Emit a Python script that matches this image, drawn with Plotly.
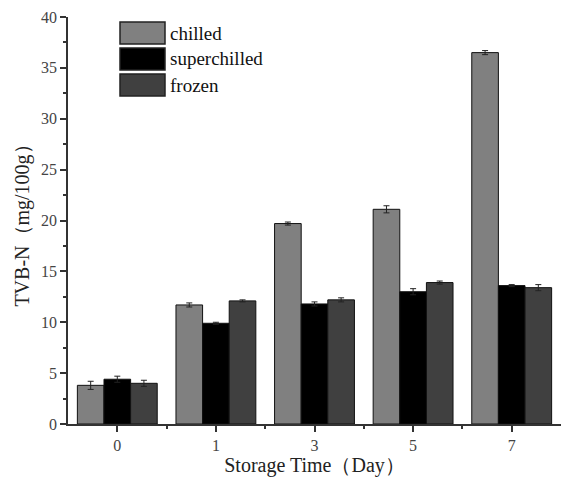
import plotly.graph_objects as go

days = ["0", "1", "3", "5", "7"]
series_names = ["chilled", "superchilled", "frozen"]
chilled = [3.8, 11.7, 19.7, 21.1, 36.5]
superchilled = [4.4, 9.9, 11.8, 13.0, 13.6]
frozen = [4.0, 12.1, 12.2, 13.9, 13.4]
chilled_err = [0.4, 0.2, 0.15, 0.35, 0.2]
superchilled_err = [0.3, 0.1, 0.2, 0.3, 0.1]
frozen_err = [0.3, 0.1, 0.2, 0.15, 0.3]
colors = ["#808080", "#000000", "#404040"]

values = [chilled, superchilled, frozen]
errors = [chilled_err, superchilled_err, frozen_err]
xpos = list(range(len(days)))

FONT = "Liberation Serif, Times New Roman, serif"

fig = go.Figure()
for name, vals, errs, col in zip(series_names, values, errors, colors):
    fig.add_trace(go.Bar(
        x=xpos, y=vals, name=name,
        marker=dict(color=col, line=dict(color="#111111", width=1)),
        error_y=dict(type="data", array=errs, visible=True, color="#222222", thickness=1, width=3),
        showlegend=False,
    ))

# custom legend with large swatches
L, R, T, B = 68, 561, 17, 424
sw_x0, sw_x1 = 120, 165
sw_top, sw_h, sw_gap = 22, 22, 26
W, H = 563, 484
for i, (name, col) in enumerate(zip(series_names, colors)):
    y0 = sw_top + i * sw_gap
    fig.add_shape(type="rect", xref="paper", yref="paper",
                  x0=(sw_x0 - L) / (R - L), x1=(sw_x1 - L) / (R - L),
                  y0=1 - (y0 - T) / (B - T), y1=1 - (y0 + sw_h - T) / (B - T),
                  fillcolor=col, line=dict(color="#222222", width=1.5))
    fig.add_annotation(xref="paper", yref="paper",
                       x=(sw_x1 + 3 - L) / (R - L), y=1 - (y0 + sw_h / 2 - T) / (B - T),
                       text=name, showarrow=False, xanchor="left", yanchor="middle",
                       font=dict(family=FONT, size=19, color="#111111"))

fig.update_layout(
    width=W, height=H,
    margin=dict(l=L, r=W - R, t=T, b=H - B),
    paper_bgcolor="white", plot_bgcolor="white",
    barmode="group", bargap=0.19, bargroupgap=0,
    font=dict(family=FONT, color="#333333"),
)
fig.update_xaxes(
    range=[-0.5, 4.5], tickvals=xpos, ticktext=days,
    showline=True, linecolor="#333333", linewidth=1.5,
    ticks="outside", ticklen=6, tickcolor="#333333", tickwidth=1.5,
    minor=dict(tickvals=[x + 0.5 for x in xpos[:-1]], ticks="outside", ticklen=3, tickcolor="#333333", tickwidth=1.5),
    showgrid=False, zeroline=False,
    tickfont=dict(size=16, color="#444444"),
    title=dict(text="Storage Time（Day）", font=dict(size=20, color="#222222"), standoff=4),
)
fig.update_yaxes(
    range=[0, 40], dtick=5, tick0=0,
    showline=True, linecolor="#333333", linewidth=1.5,
    ticks="outside", ticklen=6, tickcolor="#333333", tickwidth=1.5,
    minor=dict(dtick=2.5, ticks="outside", ticklen=3, tickcolor="#333333", tickwidth=1.5),
    showgrid=False, zeroline=False,
    tickfont=dict(size=16, color="#444444"),
    title=dict(text="TVB-N（mg/100g）", font=dict(size=20, color="#222222"), standoff=6),
)

fig.write_html("out.html")
